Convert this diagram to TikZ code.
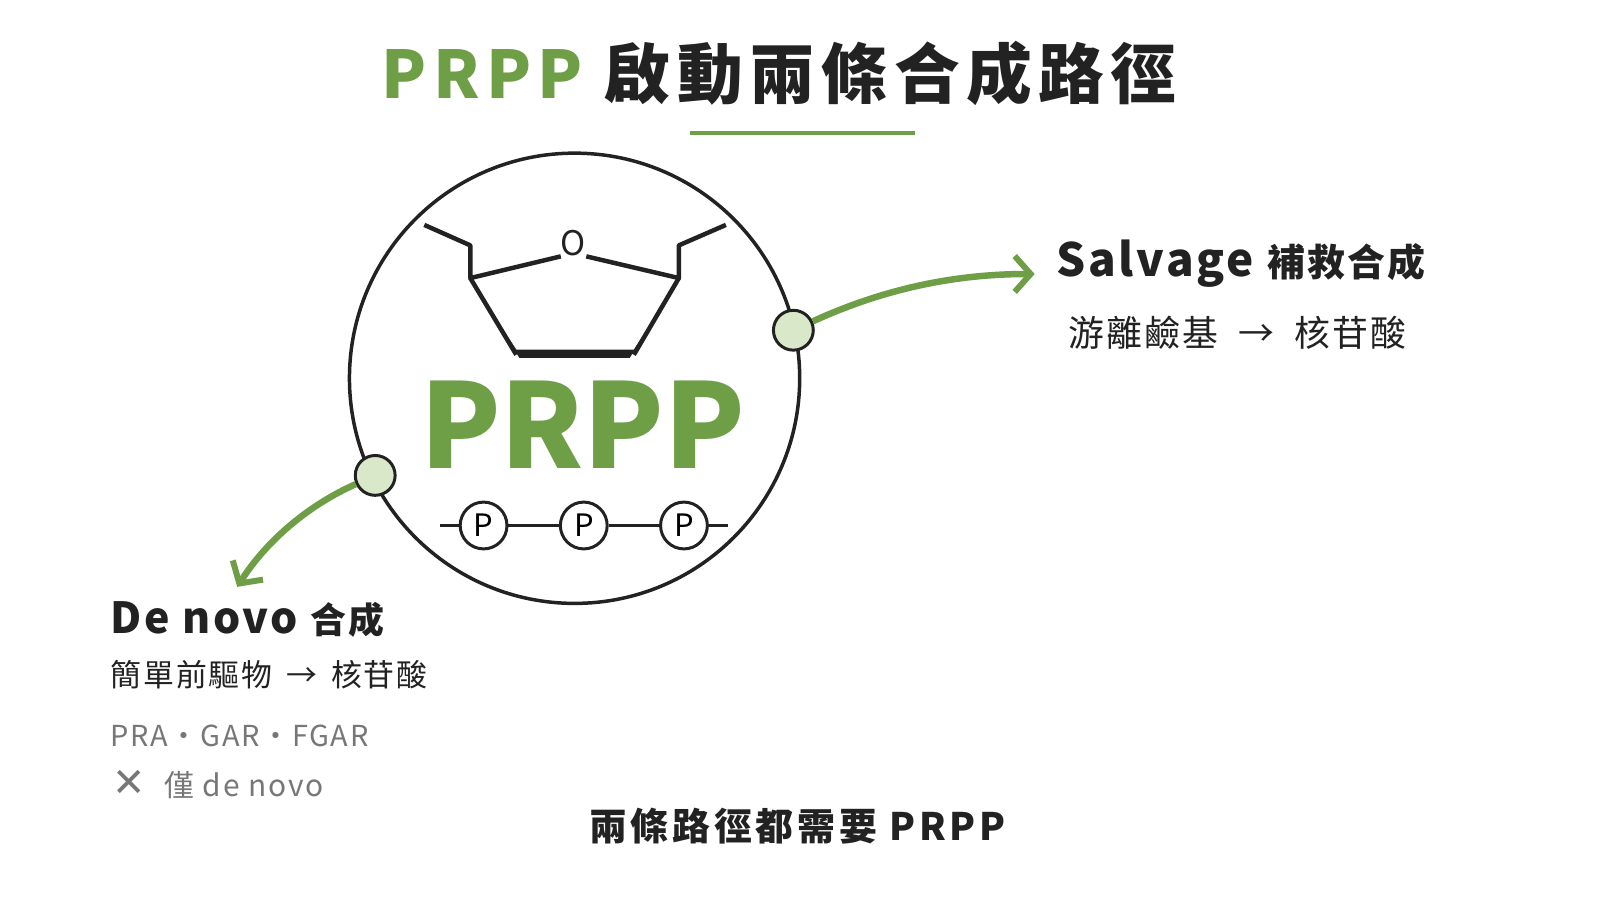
\documentclass[tikz,border=0pt]{standalone}
\usepackage{fontspec}
\setmainfont{Noto Sans CJK TC}
\newfontfamily\spc{Noto Sans CJK TC}[LetterSpace=10]
\newfontfamily\spcb{Noto Sans CJK TC}[LetterSpace=6]
\newfontfamily\djv{DejaVu Sans}
\usetikzlibrary{arrows.meta}
\definecolor{grn}{HTML}{6E9E45}
\definecolor{dot}{HTML}{D9E8C8}
\definecolor{ink}{HTML}{222222}
\definecolor{gry}{HTML}{777777}
\begin{document}
\begin{tikzpicture}[x=1.0225bp,y=-1.0225bp,
  lbl/.style={inner sep=0pt,text=ink},
  arr/.style={grn,line width=6.5pt,-{Straight Barb[length=16pt,width=36pt,line width=6pt]}},
  dotn/.style={circle,draw=ink,line width=3pt,fill=dot,minimum size=40pt,inner sep=0pt},
  pn/.style={circle,draw=ink,line width=3pt,fill=white,minimum size=47pt,inner sep=0pt,font=\fontsize{31}{31}\selectfont}]
\fill[white] (0,0) rectangle (1565,880);
\node[lbl,font=\spc\fontsize{66}{66}\bfseries\selectfont] (title) at (762,72) {\textcolor{grn}{PRPP} 啟動兩條合成路徑};
\draw[grn,line width=3.5pt] (675,130) -- (895,130);
\node[circle,draw=ink,line width=3.5pt,minimum size=452pt,inner sep=0pt] (ring) at (562,370) {};
% sugar
\node[lbl,font=\fontsize{34}{34}\selectfont] (O) at (561,238) {O};
\draw[ink,line width=4.5pt,line join=round] (O.south west) -- (460,272) -- (460,240) -- (415,220);
\draw[ink,line width=4.5pt,line join=round] (O.south east) -- (664,272) -- (664,240) -- (710,220);
\draw[ink,line width=4.5pt] (460,272) -- (505,347);
\draw[ink,line width=4.5pt] (664,272) -- (620,347);
\fill[ink] (460,274) -- (505,342) -- (620,342) -- (664,274) -- (662,276) -- (616,350) -- (508,350) -- (462,276) -- cycle;
\node[lbl,text=grn,font=\fontsize{118}{118}\bfseries\selectfont] (prpp) at (570,415) {PRPP};
\node[pn] (p1) at (473,514) {P};
\node[pn] (p2) at (571,514) {P};
\node[pn] (p3) at (669,514) {P};
\coordinate (pl) at (430,514); \coordinate (pr) at (712,514);
\draw[ink,line width=3pt] (pl) -- (p1) -- (p2) -- (p3) -- (pr);
\node[dotn] (d1) at (776,323) {};
\node[dotn] (d2) at (367,465) {};
\coordinate (e1) at (1012,268);
\coordinate (e2) at (232,574);
\draw[arr] (d1) .. controls (870,280) and (940,268) .. (e1);
\draw[arr] (d2) .. controls (300,495) and (260,530) .. (e2);
\node[lbl,anchor=west,font=\spcb\fontsize{46}{46}\bfseries\selectfont] (salv) at (1033,258) {Salvage {\fontsize{38}{38}\selectfont 補救合成}};
\node[lbl,anchor=west,font=\spcb\fontsize{36}{36}\selectfont] (salv2) at (1045,325) {游離鹼基 \;→\; 核苷酸};
\node[lbl,anchor=west,font=\spcb\fontsize{43}{43}\bfseries\selectfont] (dn) at (108,606) {De novo {\fontsize{36}{36}\selectfont 合成}};
\node[lbl,anchor=west,font=\spcb\fontsize{31}{31}\selectfont] (dn2) at (108,660) {簡單前驅物 \,→\, 核苷酸};
\node[lbl,anchor=west,text=gry,font=\spcb\fontsize{29}{29}\selectfont] (dn3) at (108,720) {PRA・GAR・FGAR};
\node[lbl,anchor=west,text=gry,font=\spcb\fontsize{30}{30}\selectfont] (dn4) at (110,767) {{\djv\fontsize{40}{40}\selectfont ✕}\,\, 僅 de novo};
\node[lbl,font=\spc\fontsize{38}{38}\bfseries\selectfont] (foot) at (780,808) {兩條路徑都需要 PRPP};
\pgfresetboundingbox
\path[use as bounding box] (0,0) rectangle (1565,880);
\end{tikzpicture}
\end{document}
